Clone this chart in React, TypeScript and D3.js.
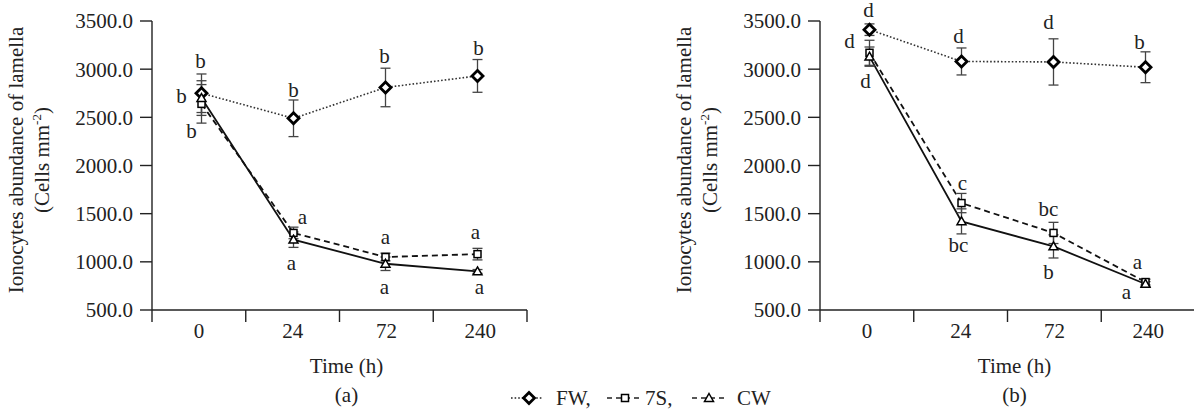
import React from "react";
import * as d3 from "d3";

const timeLabels = ["0", "24", "72", "240"];
const yTicks = [500, 1000, 1500, 2000, 2500, 3000, 3500];

// Panel (a)
const fwA = [2750, 2490, 2810, 2930];
const fwAErr = [200, 190, 200, 170];
const s7A = [2640, 1300, 1050, 1080];
const s7AErr = [200, 60, 40, 60];
const cwA = [2700, 1230, 980, 900];
const cwAErr = [180, 80, 70, 20];

// Panel (b)
const fwB = [3410, 3080, 3075, 3020];
const fwBErr = [60, 140, 240, 160];
const s7B = [3170, 1610, 1300, 790];
const s7BErr = [130, 100, 110, 30];
const cwB = [3130, 1420, 1160, 770];
const cwBErr = [100, 130, 120, 25];

type Letter = { s: "fw" | "s7" | "cw"; i: number; t: string; dx: number; dy: number };

const lettersA: Letter[] = [
  { s: "fw", i: 0, t: "b", dx: -1, dy: -32 },
  { s: "fw", i: 0, t: "b", dx: -20, dy: 3 },
  { s: "cw", i: 0, t: "b", dx: -10, dy: 34 },
  { s: "fw", i: 1, t: "b", dx: 0, dy: -28 },
  { s: "s7", i: 1, t: "a", dx: 9, dy: -15 },
  { s: "cw", i: 1, t: "a", dx: -2, dy: 24 },
  { s: "fw", i: 2, t: "b", dx: -1, dy: -31 },
  { s: "s7", i: 2, t: "a", dx: 0, dy: -19 },
  { s: "cw", i: 2, t: "a", dx: -1, dy: 24 },
  { s: "fw", i: 3, t: "b", dx: 1, dy: -27 },
  { s: "s7", i: 3, t: "a", dx: -2, dy: -21 },
  { s: "cw", i: 3, t: "a", dx: 2, dy: 16 },
];

const lettersB: Letter[] = [
  { s: "fw", i: 0, t: "d", dx: -1, dy: -19 },
  { s: "s7", i: 0, t: "d", dx: -20, dy: -11 },
  { s: "cw", i: 0, t: "d", dx: -4, dy: 25 },
  { s: "fw", i: 1, t: "d", dx: -3, dy: -25 },
  { s: "s7", i: 1, t: "c", dx: 1, dy: -19 },
  { s: "cw", i: 1, t: "bc", dx: -3, dy: 24 },
  { s: "fw", i: 2, t: "d", dx: -5, dy: -39 },
  { s: "s7", i: 2, t: "bc", dx: -5, dy: -23 },
  { s: "cw", i: 2, t: "b", dx: -5, dy: 26 },
  { s: "fw", i: 3, t: "b", dx: -6, dy: -25 },
  { s: "s7", i: 3, t: "a", dx: -8, dy: -19 },
  { s: "cw", i: 3, t: "a", dx: -19, dy: 9 },
];

const FONT = '"Liberation Serif", Tinos, "Times New Roman", "DejaVu Serif", serif';
const FS = 21;
const AX = "#222";

const yScale = d3.scaleLinear().domain([500, 3500]).range([310, 21]);

function Marker({ kind, x, y }: { kind: string; x: number; y: number }) {
  if (kind === "fw") {
    const r = 5.5;
    return (
      <path
        d={`M${x},${y - r}L${x + r},${y}L${x},${y + r}L${x - r},${y}Z`}
        fill="#fff"
        stroke="#000"
        strokeWidth={2.8}
      />
    );
  }
  if (kind === "s7") {
    const r = 3.5;
    return <rect x={x - r} y={y - r} width={2 * r} height={2 * r} fill="#fff" stroke="#000" strokeWidth={1.5} />;
  }
  const r = 4.5;
  return (
    <path
      d={`M${x},${y - r}L${x + r},${y + r * 0.75}L${x - r},${y + r * 0.75}Z`}
      fill="#fff"
      stroke="#000"
      strokeWidth={1.5}
    />
  );
}

function Panel({
  x0,
  fw,
  fwErr,
  s7,
  s7Err,
  cw,
  cwErr,
  letters,
  tag,
}: {
  x0: number;
  fw: number[];
  fwErr: number[];
  s7: number[];
  s7Err: number[];
  cw: number[];
  cwErr: number[];
  letters: Letter[];
  tag: string;
}) {
  const x1 = x0 + 375;
  const band = d3.scaleBand<string>().domain(timeLabels).range([x0, x1]);
  const pt = d3.scalePoint<string>().domain(timeLabels).range([x0 + 49.5, x1 - 49.5]);
  const series: { key: "fw" | "s7" | "cw"; v: number[]; e: number[]; dash: string; sw: number; color: string }[] = [
    { key: "fw", v: fw, e: fwErr, dash: "1.6,2", sw: 1.6, color: "#333" },
    { key: "s7", v: s7, e: s7Err, dash: "6,4", sw: 1.8, color: "#111" },
    { key: "cw", v: cw, e: cwErr, dash: "", sw: 1.8, color: "#111" },
  ];
  const line = d3
    .line<number>()
    .x((_, i) => pt(timeLabels[i]) as number)
    .y((d) => yScale(d));
  const vals = { fw, s7, cw };
  const boundaries = [...timeLabels.map((t) => band(t) as number), x1];
  const yBase = yScale(500);
  const cx = (x0 + x1) / 2 + 7;
  return (
    <g style={{ fontFamily: FONT, fontSize: FS }} fill="#222">
      {/* y axis */}
      <line x1={x0} x2={x0} y1={yScale(3500)} y2={yBase} stroke={AX} strokeWidth={1.4} />
      {yTicks.map((t) => (
        <g key={t}>
          <line x1={x0 - 12} x2={x0} y1={yScale(t)} y2={yScale(t)} stroke={AX} strokeWidth={1.4} />
          <text x={x0 - 19} y={yScale(t)} dy="0.35em" textAnchor="end">
            {t.toFixed(1)}
          </text>
        </g>
      ))}
      {/* x axis */}
      <line x1={x0} x2={x1} y1={yBase} y2={yBase} stroke={AX} strokeWidth={1.4} />
      {boundaries.map((b, i) => (
        <line key={i} x1={b} x2={b} y1={yBase} y2={yBase + 12} stroke={AX} strokeWidth={1.4} />
      ))}
      {timeLabels.map((t) => (
        <text key={t} x={(band(t) as number) + band.bandwidth() / 2} y={338} textAnchor="middle">
          {t}
        </text>
      ))}
      <text x={cx} y={373} textAnchor="middle">
        Time (h)
      </text>
      <text x={cx} y={402} textAnchor="middle">
        {tag}
      </text>
      {/* y label */}
      <g transform={`translate(${x0 - 129},160) rotate(-90)`}>
        <text x={0} y={0} textAnchor="middle">
          Ionocytes abundance of lamella
        </text>
        <text x={0} y={26} textAnchor="middle">
          (Cells mm
          <tspan style={{ fontSize: 13 }} dy={-8}>
            -2
          </tspan>
          <tspan dy={8}>)</tspan>
        </text>
      </g>
      {/* lines */}
      {series.map((s) => (
        <path
          key={s.key}
          d={line(s.v) as string}
          fill="none"
          stroke={s.color}
          strokeWidth={s.sw}
          strokeDasharray={s.dash || undefined}
        />
      ))}
      {/* error bars */}
      {series.map((s) =>
        s.v.map((v, i) => {
          const px = pt(timeLabels[i]) as number;
          const top = yScale(v + s.e[i]);
          const bot = yScale(v - s.e[i]);
          return (
            <g key={s.key + i} stroke="#444" strokeWidth={1.3}>
              <line x1={px} x2={px} y1={top} y2={bot} />
              <line x1={px - 5} x2={px + 5} y1={top} y2={top} />
              <line x1={px - 5} x2={px + 5} y1={bot} y2={bot} />
            </g>
          );
        })
      )}
      {/* markers */}
      {series.map((s) =>
        s.v.map((v, i) => <Marker key={s.key + "m" + i} kind={s.key} x={pt(timeLabels[i]) as number} y={yScale(v)} />)
      )}
      {/* letters */}
      {letters.map((l, k) => (
        <text
          key={"l" + k}
          x={(pt(timeLabels[l.i]) as number) + l.dx}
          y={yScale(vals[l.s][l.i]) + l.dy}
          dy="0.3em"
          textAnchor="middle"
        >
          {l.t}
        </text>
      ))}
    </g>
  );
}

function Legend() {
  const items = [
    { key: "fw", label: "FW,", x0: 511, x1: 543, mx: 529, tx: 556, dash: "1.6,2" },
    { key: "s7", label: "7S,", x0: 607, x1: 641, mx: 625, tx: 645, dash: "5,4" },
    { key: "cw", label: "CW", x0: 692, x1: 727, mx: 709, tx: 737, dash: "5,4" },
  ];
  const y = 398;
  return (
    <g style={{ fontFamily: FONT, fontSize: FS }} fill="#222">
      {items.map((it) => (
        <g key={it.key}>
          <line x1={it.x0} x2={it.x1} y1={y} y2={y} stroke="#222" strokeWidth={1.5} strokeDasharray={it.dash} />
          <Marker kind={it.key} x={it.mx} y={y} />
          <text x={it.tx} y={y} dy="0.35em">
            {it.label}
          </text>
        </g>
      ))}
    </g>
  );
}

export default function App() {
  return (
    <svg
      width={1194}
      height={411}
      style={{ position: "absolute", left: 0, top: 0, background: "#fff", fontFamily: FONT }}
    >
      <rect width={1194} height={411} fill="#fff" />
      <Panel x0={152} fw={fwA} fwErr={fwAErr} s7={s7A} s7Err={s7AErr} cw={cwA} cwErr={cwAErr} letters={lettersA} tag="(a)" />
      <Panel x0={820} fw={fwB} fwErr={fwBErr} s7={s7B} s7Err={s7BErr} cw={cwB} cwErr={cwBErr} letters={lettersB} tag="(b)" />
      <Legend />
    </svg>
  );
}
